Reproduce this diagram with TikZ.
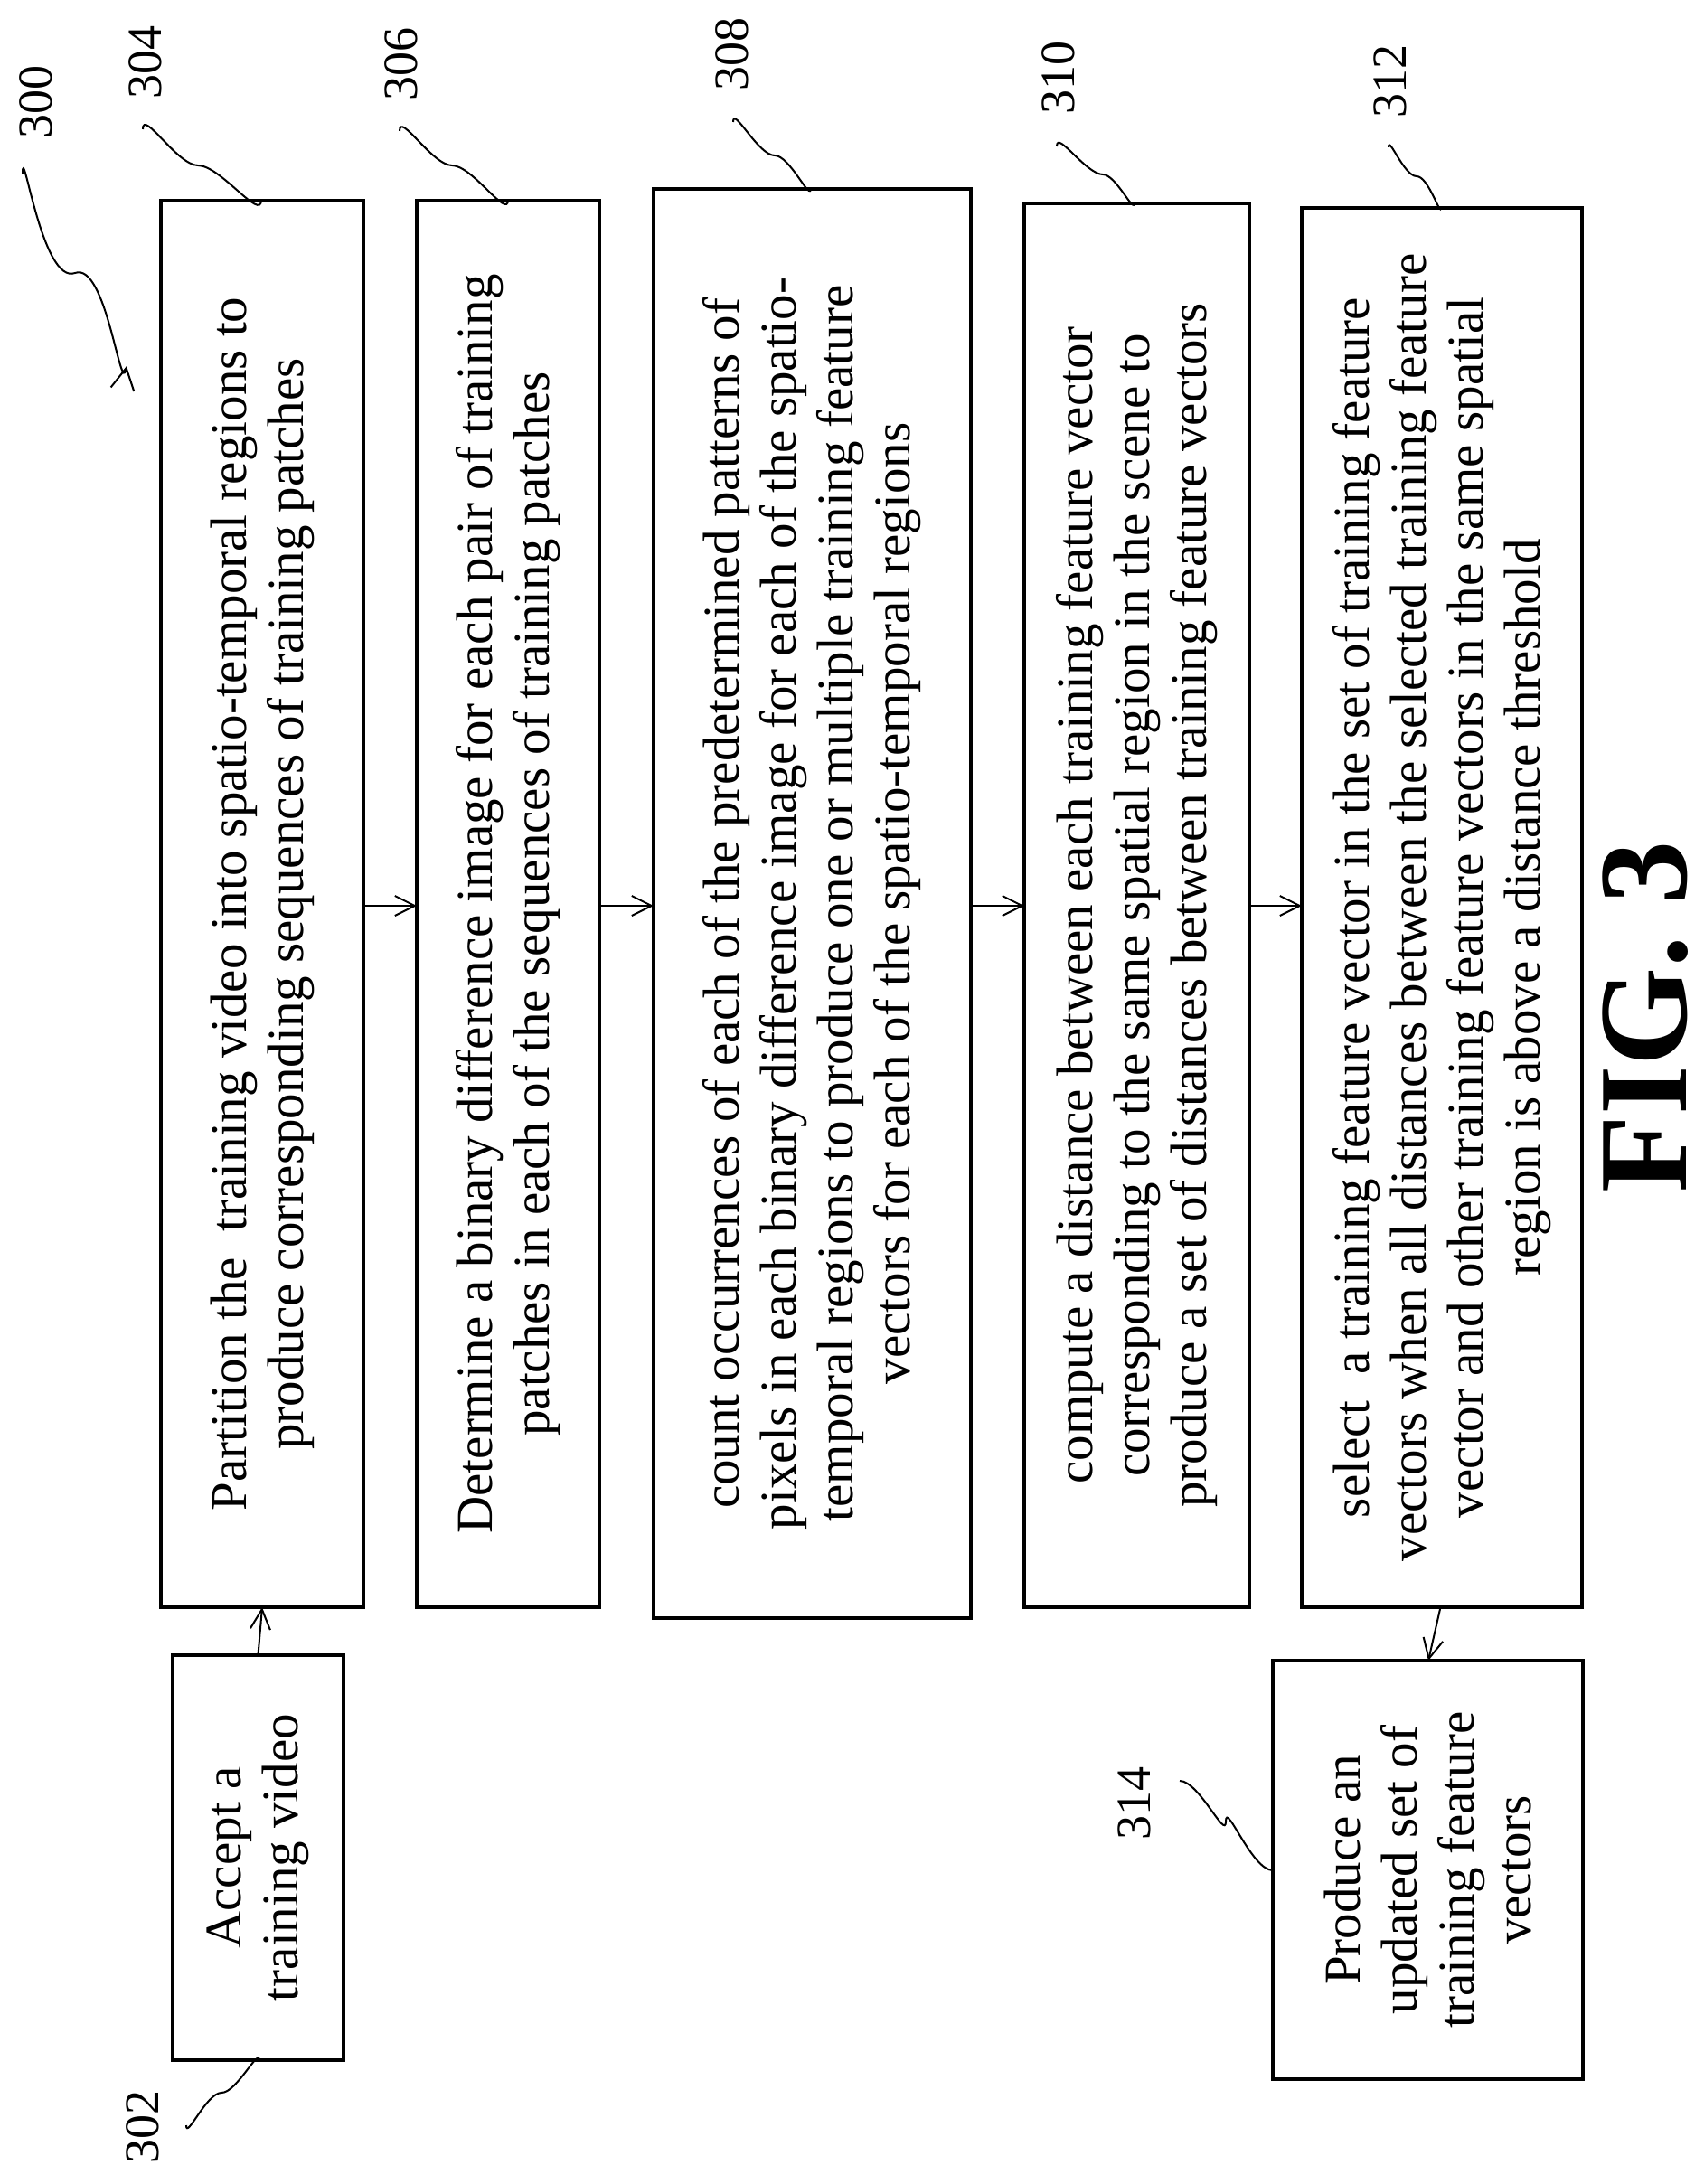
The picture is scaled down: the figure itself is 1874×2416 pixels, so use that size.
\documentclass[tikz,border=0pt]{standalone}
\usepackage{fontspec}
\setmainfont{Liberation Serif}
\usetikzlibrary{arrows.meta}
\begin{document}
\begin{tikzpicture}[x=1pt,y=-1pt,
  box/.style={draw,line width=4pt,rectangle,inner sep=0pt,outer sep=0pt},
  txt/.style={rotate=90,align=center,font=\fontsize{57}{63}\selectfont,inner sep=0pt},
  lab/.style={rotate=90,font=\fontsize{54}{60}\selectfont,inner sep=0pt},
  lead/.style={line width=2pt,looseness=0.8},
  arr/.style={line width=2pt,-{Straight Barb[length=22pt,width=22pt,line width=2pt]}}]
\useasboundingbox (0,0) rectangle (1874,2416);
% boxes
\node[box,minimum width=189pt,minimum height=448pt] (b302) at (285.5,2055) {};
\node[box,minimum width=224pt,minimum height=1556pt] (b304) at (290,1000) {};
\node[box,minimum width=202pt,minimum height=1556pt] (b306) at (562,1000) {};
\node[box,minimum width=351pt,minimum height=1581pt] (b308) at (898.5,999.5) {};
\node[box,minimum width=249pt,minimum height=1553pt] (b310) at (1257.5,1001.5) {};
\node[box,minimum width=310pt,minimum height=1548pt] (b312) at (1595,1004) {};
\node[box,minimum width=343pt,minimum height=463pt] (b314) at (1579.5,2068.5) {};
% texts
\node[txt] (t302) at (b302) {Accept a\\training video};
\node[txt] (t304) at (b304) {Partition the \ training video into spatio-temporal regions to\\produce corresponding sequences of training patches};
\node[txt] (t306) at (b306) {Determine a binary difference image for each pair of training\\patches in each of the sequences of training patches};
\node[txt] (t308) at (b308) {count occurrences of each of the predetermined patterns of\\pixels in each binary difference image for each of the spatio-\\temporal regions to produce one or multiple training feature\\vectors for each of the spatio-temporal regions};
\node[txt] (t310) at (b310) {compute a distance between each training feature vector\\corresponding to the same spatial region in the scene to\\produce a set of distances between training feature vectors};
\node[txt] (t312) at (b312) {select \ a training feature vector in the set of training feature\\vectors when all distances between the selected training feature\\vector and other training feature vectors in the same spatial\\region is above a distance threshold};
\node[txt] (t314) at (b314) {Produce an\\updated set of\\training feature\\vectors};
% connectors
\coordinate (y0) at (0,1002);
\draw[arr] (b302.north) -- (b304.south);
\draw[arr] (b304.east |- y0) -- (b306.west |- y0);
\draw[arr] (b306.east |- y0) -- (b308.west |- y0);
\draw[arr] (b308.east |- y0) -- (b310.west |- y0);
\draw[arr] (b310.east |- y0) -- (b312.west |- y0);
\coordinate (a312) at (1593,1780);
\coordinate (a314) at (1580,1837);
\draw[arr] (a312) -- (a314);
% labels
\node[lab] (l300) at (40,113) {300};
\node[lab] (l304) at (161,69) {304};
\node[lab] (l306) at (444,71) {306};
\node[lab] (l308) at (810,60) {308};
\node[lab] (l310) at (1171,86) {310};
\node[lab] (l312) at (1538,90) {312};
\node[lab] (l302) at (158,2353) {302};
\node[lab] (l314) at (1255,1995) {314};
% leaders
\draw[lead,-{Straight Barb[length=24pt,width=26pt,line width=2pt]}] (25,192) to[out=90,in=200] (83,302) to[out=20,in=-100] (140,405);
\draw[lead] (158,143) to[out=90,in=180] (219,183) to[out=0,in=-90] (289,221);
\draw[lead] (442,145) to[out=90,in=180] (500,183) to[out=0,in=-90] (562,221);
\draw[lead] (811,135) to[out=90,in=180] (857,172) to[out=0,in=-90] (897,208);
\draw[lead] (1169,162) to[out=90,in=180] (1220,193) to[out=0,in=-90] (1255,224);
\draw[lead] (1536,163) to[out=90,in=180] (1567,195) to[out=0,in=-90] (1594,229);
\draw[lead] (206,2351) to[out=-90,in=180] (245,2315) to[out=0,in=90] (287,2280);
\draw[lead] (1305,1970) to[out=0,in=-90] (1356,2015) to[out=90,in=180] (1408,2069);
% figure title
\node[rotate=90,font=\bfseries\fontsize{140}{150}\selectfont,inner sep=0pt] (fig) at (1820,1125) {FIG. 3};
\end{tikzpicture}
\end{document}
